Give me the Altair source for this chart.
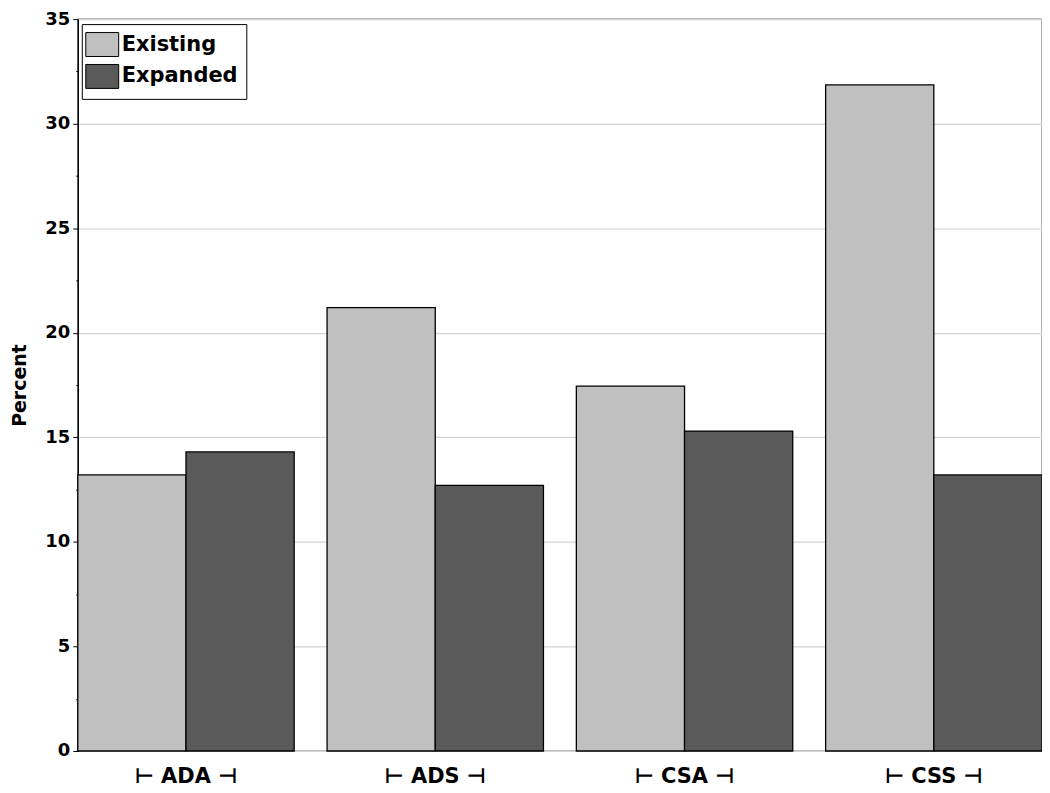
import altair as alt
import pandas as pd

categories = ["ADA", "ADS", "CSA", "CSS"]
series = ["Existing", "Expanded"]
existing = [13.2, 21.2, 17.45, 31.85]
expanded = [14.3, 12.7, 15.3, 13.2]
colors = ["#c0c0c0", "#5a5a5a"]

rows = []
for i, c in enumerate(categories):
    rows.append({"Category": c, "Series": "Existing", "Percent": existing[i]})
    rows.append({"Category": c, "Series": "Expanded", "Percent": expanded[i]})
df = pd.DataFrame(rows)

FONT = "DejaVu Sans"

chart = alt.Chart(df).mark_bar(stroke="black", strokeWidth=1.3).encode(
    x=alt.X("Category:N", sort=categories,
            scale=alt.Scale(paddingInner=0.132, paddingOuter=0),
            axis=alt.Axis(title=None, labelAngle=0, ticks=False, domain=False,
                          labelExpr="'⊢ ' + datum.label + ' ⊣'",
                          labelFont=FONT, labelFontSize=21, labelFontWeight="bold",
                          labelColor="black", labelPadding=15)),
    xOffset=alt.XOffset("Series:N", sort=series, scale=alt.Scale(paddingInner=0, paddingOuter=0)),
    y=alt.Y("Percent:Q", scale=alt.Scale(domain=[0, 35], nice=False),
            axis=alt.Axis(title="Percent", values=[v * 2.5 for v in range(15)],
                          labelExpr="datum.value % 5 === 0 ? datum.label : ''",
                          tickSize={"condition": {"test": "datum.value % 5 === 0", "value": 5}, "value": 2},
                          gridOpacity={"condition": {"test": "datum.value % 5 === 0", "value": 1}, "value": 0},
                          gridColor="#d3d3d3", gridWidth=1.2,
                          domainColor="black", tickColor="black", domainWidth=1.2,
                          labelFont=FONT, labelFontSize=18, labelFontWeight="bold",
                          labelColor="black", labelPadding=3,
                          titleFont=FONT, titleFontSize=19, titleFontWeight="bold",
                          titleColor="black", titlePadding=15)),
    color=alt.Color("Series:N", sort=series,
                    scale=alt.Scale(domain=series, range=colors),
                    legend=alt.Legend(title=None, orient="none", legendX=4, legendY=5,
                                      symbolType="M-1.375,-1H1.375V1H-1.375Z",
                                      symbolSize=576, symbolStrokeColor="black",
                                      symbolStrokeWidth=1, symbolOpacity=1,
                                      labelExpr="datum.label + '  '",
                                      labelFont=FONT, labelFontSize=21, labelFontWeight="bold",
                                      labelColor="black", labelOffset=7,
                                      strokeColor="black", fillColor="white",
                                      padding=8, rowPadding=3, labelLimit=300)),
).properties(
    width=967, height=734,
    autosize=alt.AutoSizeParams(type="none"),
    padding={"left": 70, "top": 10, "right": 0, "bottom": 40},
).configure_view(
    stroke="black", strokeWidth=1.2
)

chart.save("out.html", embed_options={"renderer": "svg", "actions": False})
